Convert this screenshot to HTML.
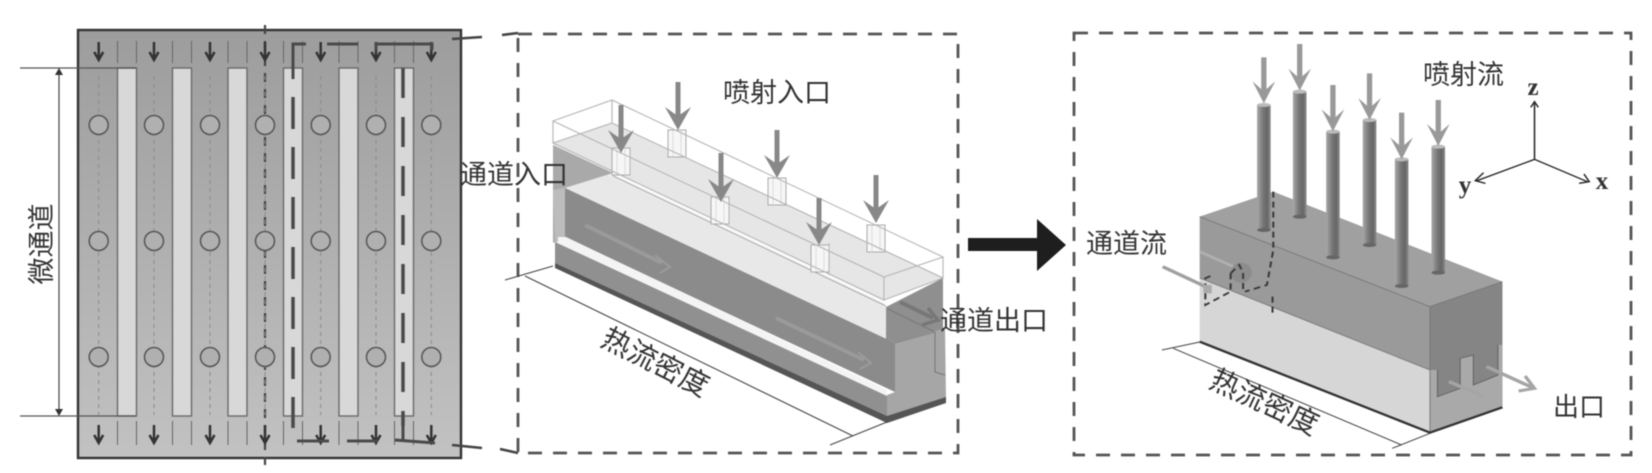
<!DOCTYPE html>
<html><head><meta charset="utf-8"><style>
html,body{margin:0;padding:0;background:#fff;width:1652px;height:473px;overflow:hidden}
svg{display:block;filter:blur(.5px)}
text{font-family:"Liberation Sans","Noto Sans CJK SC",sans-serif;fill:#333}
</style></head><body>
<svg width="1652" height="473" viewBox="0 0 1652 473" xmlns="http://www.w3.org/2000/svg">
<defs>
<linearGradient id="pl" x1="0" y1="0" x2="0" y2="1"><stop offset="0" stop-color="#9d9d9d"/><stop offset="1" stop-color="#c2c2c2"/></linearGradient>
<linearGradient id="pipe" x1="0" y1="0" x2="1" y2="0"><stop offset="0" stop-color="#a8a8a8"/><stop offset=".45" stop-color="#767676"/><stop offset=".75" stop-color="#666"/><stop offset="1" stop-color="#8c8c8c"/></linearGradient>
<g id="ch"><rect x="0" y="68" width="19" height="348" fill="#d8d8d8" stroke="#6a6a6a" stroke-width="1.4"/></g>
<g id="stub" stroke="#666" stroke-width="1" fill="none"><path d="M0 41V63M19 41V63M0 421V445M19 421V445"/></g>
<g id="hole"><path d="M0 76V415" stroke="#8a8a8a" stroke-width="1" stroke-dasharray="4 4" fill="none"/>
<circle cy="125" r="9.5" fill="#b0b0b0" stroke="#555" stroke-width="1.5"/><circle cy="241" r="9.5" fill="#b0b0b0" stroke="#555" stroke-width="1.5"/><circle cy="357" r="9.5" fill="#b0b0b0" stroke="#555" stroke-width="1.5"/>
<path d="M0 42V58M-4.5 52L0 60L4.5 52M0 425V441M-4.5 435L0 443L4.5 435" stroke="#333" stroke-width="2.5" fill="none"/></g>
<path id="h" d="M0 0L-13 -23L-3 -16H3L13 -23Z"/>
<path id="head2" d="M0 0L-30 -66L-6 -42H6L30 -66Z"/>
<g id="cyl"><rect x="-9" y="-14" width="18" height="27" fill="#f6f6f6" stroke="#aaa" stroke-width="1"/><path d="M-4 -13V12M4 -13V12" stroke="#ddd" stroke-width="1"/></g>
</defs>

<!-- Left plate -->
<rect x="78" y="30" width="383" height="428" fill="url(#pl)" stroke="#333" stroke-width="2.4"/>
<use href="#ch" x="117.5"/><use href="#ch" x="172.5"/><use href="#ch" x="228"/><use href="#ch" x="283.5"/><use href="#ch" x="339"/><use href="#ch" x="394.5"/>
<use href="#stub" x="117.5"/><use href="#stub" x="172.5"/><use href="#stub" x="228"/><use href="#stub" x="283.5"/><use href="#stub" x="339"/><use href="#stub" x="394.5"/>
<path d="M265 25V465" stroke="#444" stroke-width="2.2" stroke-dasharray="9 7"/>
<use href="#hole" x="98.7"/><use href="#hole" x="154"/><use href="#hole" x="210"/><use href="#hole" x="265"/><use href="#hole" x="320.7"/><use href="#hole" x="376"/><use href="#hole" x="431.3"/>
<path d="M20 68H136M20 416H136" stroke="#555" stroke-width="1.2"/>
<path d="M59 70V414" stroke="#444" stroke-width="1.2"/><path d="M59 68l-4 7h8zM59 416l-4 -7h8z" fill="#333"/>
<path d="M293 79V44H306M327 44H358M376 50V44H432V50" fill="none" stroke="#4a4a4a" stroke-width="3"/>
<path d="M293 97V428" stroke="#4a4a4a" stroke-width="3.5" stroke-dasharray="32 18"/>
<path d="M403 68V426" stroke="#4a4a4a" stroke-width="3.5" stroke-dasharray="30 19"/>
<path d="M297 441H329M347 441H378M395 440L435 443M403 416V440" fill="none" stroke="#4a4a4a" stroke-width="3"/>
<text transform="translate(42,244) rotate(-90)" font-size="27" text-anchor="middle" dominant-baseline="central">微通道</text>
<path d="M452 39L482 37M502 35L518 33M452 445L482 448M500 449L518 453" stroke="#444" stroke-width="2.5"/>

<!-- Middle dashed frame -->
<rect x="518" y="34" width="440" height="419" fill="none" stroke="#555" stroke-width="2.8" stroke-dasharray="14 11"/>

<!-- Middle block -->
<path d="M553 143L612 123L943 278L884 300Z" fill="#e6e6e6"/>
<path d="M553 143L884 300V340L565 190L553 195Z" fill="#efefef"/>
<path d="M553 145L613 173L565 188V237L553 243Z" fill="#a9a9a9"/>
<path d="M553 190L565 188V238L555 243Z" fill="#bcbcbc"/>
<path d="M565 188L607 175L887 307V340Z" fill="#e8e8e8"/>
<path d="M613 173L886 303" stroke="#fafafa" stroke-width="2.5"/>
<path d="M613 176L886 306" stroke="#999" stroke-width=".8"/>
<path d="M565 188L895 343V392L565 237Z" fill="#8b8b8b"/>
<path d="M886 307L943 278V330L895 343L886 339Z" fill="#8f8f8f"/>
<path d="M895 343L945 328L946 398L887 417V395L895 392Z" fill="#a6a6a6"/>
<path d="M888 309L935 332V372L945 375" fill="none" stroke="#777" stroke-width="1"/>
<path d="M895 343L935 332" stroke="#888" stroke-width="1"/>
<path d="M558 237L566 237L887 390V396L558 243Z" fill="#f4f4f4"/>
<path d="M555 242L887 396V416L555 263Z" fill="#909090"/>
<path d="M555 263L887 416L946 397V403L887 423L555 268Z" fill="#555"/>
<path d="M585 225L662 263M776 318L864 360" stroke="#a0a0a0" stroke-width="4" opacity=".75"/>
<path d="M655 255L670 267L660 273M858 352L871 363L860 369" stroke="#a0a0a0" stroke-width="2" fill="none" opacity=".75"/>
<use href="#cyl" x="621" y="162"/><use href="#cyl" x="677" y="144"/><use href="#cyl" x="720" y="211"/><use href="#cyl" x="777" y="192"/><use href="#cyl" x="820" y="259"/><use href="#cyl" x="876" y="239"/>
<path d="M630 152V173M729 200V222M829 243V275" stroke="#bbb" stroke-width="1.2"/>
<path d="M553 121L612 100L943 257L884 277ZM553 121V143M884 277V300M943 257V278M612 100V123M553 143L612 123L943 278L884 300Z" fill="none" stroke="#b4b4b4" stroke-width="1.1"/>
<g fill="#888"><path d="M618.5 105h5V143h-5zM675.5 82h5V120h-5zM718.5 153h5V192h-5zM774.5 130h5V168h-5zM816.5 198h5V235h-5zM873.5 175h5V213h-5z"/>
<use href="#h" x="621" y="153"/><use href="#h" x="678" y="130"/><use href="#h" x="721" y="202"/><use href="#h" x="777" y="178"/><use href="#h" x="819" y="245"/><use href="#h" x="876" y="223"/></g>
<path d="M900 302L933 318" stroke="#777" stroke-width="4"/><path d="M928 308L938 320L922 325" stroke="#777" stroke-width="3.4" fill="none"/>
<path d="M505 280L553 266M525 276L853 436M830 445L887 422" fill="none" stroke="#444" stroke-width="1.1"/>

<!-- Thick arrow -->
<path d="M968 238H1037V219L1066 245L1037 271V251H968Z" fill="#1e1e1e"/>

<!-- Right dashed frame -->
<rect x="1074" y="33" width="557" height="422" fill="none" stroke="#555" stroke-width="2.8" stroke-dasharray="14 11"/>

<!-- Right block -->
<g transform="translate(1060,20) scale(.37750,.33333)">
<path d="M370 590L565 515L1172 785L980 860Z" fill="#a0a0a0"/>
<path d="M370 590L980 860V1050L370 774Z" fill="#9a9a9a"/>
<path d="M370 774L980 1050V1235L370 965Z" fill="#d6d6d6"/>
<path d="M980 860L1172 785V1160L980 1235Z" fill="#858585"/>
<path d="M980 1050L1000 1050V1130L1060 1105V1015L1095 1005V1095L1160 1065V975L1172 975V1160L980 1235Z" fill="#a9a9a9"/>
<path d="M1000 1050V1130L1060 1105V1015L1095 1005V1095L1160 1065V975" fill="none" stroke="#666" stroke-width="3"/>
<path d="M370 590L980 860L1172 785M370 774L980 1050M980 860V1235" fill="none" stroke="#777" stroke-width="2.5"/>
<path d="M370 965L980 1238L1172 1162" fill="none" stroke="#333" stroke-width="7"/>
<path d="M370 695L470 745" stroke="#b0b0b0" stroke-width="8"/>
<ellipse cx="480" cy="758" rx="28" ry="30" fill="#8c8c8c"/>
<path d="M565 515V690L548 795L490 815M452 760V815L385 855V775L405 765M452 760L475 735L485 760V815M563 830V885" fill="none" stroke="#3a3a3a" stroke-width="5.5" stroke-dasharray="18 12"/>
<path d="M272 740L395 805" stroke="#a0a0a0" stroke-width="10"/><rect x="380" y="795" width="22" height="25" fill="#aaa"/>
<g>
<rect x="522" y="255" width="36" height="375" fill="url(#pipe)"/><ellipse cx="540" cy="630" rx="18" ry="6" fill="#666"/><ellipse cx="540" cy="255" rx="18" ry="6" fill="#bbb"/>
<rect x="617" y="215" width="36" height="375" fill="url(#pipe)"/><ellipse cx="635" cy="590" rx="18" ry="6" fill="#666"/><ellipse cx="635" cy="215" rx="18" ry="6" fill="#bbb"/>
<rect x="705" y="335" width="36" height="377" fill="url(#pipe)"/><ellipse cx="723" cy="712" rx="18" ry="6" fill="#666"/><ellipse cx="723" cy="335" rx="18" ry="6" fill="#bbb"/>
<rect x="802" y="300" width="36" height="375" fill="url(#pipe)"/><ellipse cx="820" cy="675" rx="18" ry="6" fill="#666"/><ellipse cx="820" cy="300" rx="18" ry="6" fill="#bbb"/>
<rect x="887" y="418" width="36" height="380" fill="url(#pipe)"/><ellipse cx="905" cy="798" rx="18" ry="6" fill="#666"/><ellipse cx="905" cy="418" rx="18" ry="6" fill="#bbb"/>
<rect x="984" y="380" width="36" height="378" fill="url(#pipe)"/><ellipse cx="1002" cy="758" rx="18" ry="6" fill="#666"/><ellipse cx="1002" cy="380" rx="18" ry="6" fill="#bbb"/>
</g>
<g fill="#999"><path d="M533 112h14V210h-14zM628 72h14V172h-14zM716 195h14V294h-14zM813 160h14V260h-14zM898 278h14V378h-14zM995 240h14V338h-14z"/>
<use href="#head2" x="540" y="250"/><use href="#head2" x="635" y="212"/><use href="#head2" x="723" y="334"/><use href="#head2" x="820" y="300"/><use href="#head2" x="905" y="418"/><use href="#head2" x="1002" y="378"/></g>
<path d="M1030 1085L1125 1130M1130 1040L1250 1102" stroke="#a5a5a5" stroke-width="10"/><path d="M1232 1068L1257 1105L1215 1113" fill="none" stroke="#a5a5a5" stroke-width="9"/>
<path d="M1257 418V250M1257 418L1105 482M1257 418L1397 485" stroke="#222" stroke-width="4" fill="none"/>
<path d="M1247 262L1257 245L1267 262M1122 458L1100 482L1127 490M1375 490L1402 485L1388 462" fill="none" stroke="#222" stroke-width="4"/>
<path d="M270 990L375 965M300 985L905 1275M880 1285L980 1240" fill="none" stroke="#444" stroke-width="3"/>
</g>

<!-- Labels -->
<text x="723" y="102" font-size="27">喷射入口</text>
<text x="460" y="184" font-size="27">通道入口</text>
<text x="940" y="330" font-size="27">通道出口</text>
<text x="1086" y="253" font-size="27">通道流</text>
<text x="1423" y="84" font-size="27">喷射流</text>
<text x="1553" y="416" font-size="26">出口</text>
<text transform="translate(655,363) rotate(27)" font-size="29" text-anchor="middle" dominant-baseline="central">热流密度</text>
<text transform="translate(1264,403) rotate(25)" font-size="29" text-anchor="middle" dominant-baseline="central">热流密度</text>
<g style="font-family:'Liberation Serif',serif;font-weight:bold;font-size:25px" text-anchor="middle">
<text x="1533" y="95" style="font-family:'Liberation Serif',serif" fill="#222">z</text>
<text x="1465" y="193" style="font-family:'Liberation Serif',serif" fill="#222">y</text>
<text x="1602" y="189" style="font-family:'Liberation Serif',serif" fill="#222">x</text>
</g>
</svg>
</body></html>
